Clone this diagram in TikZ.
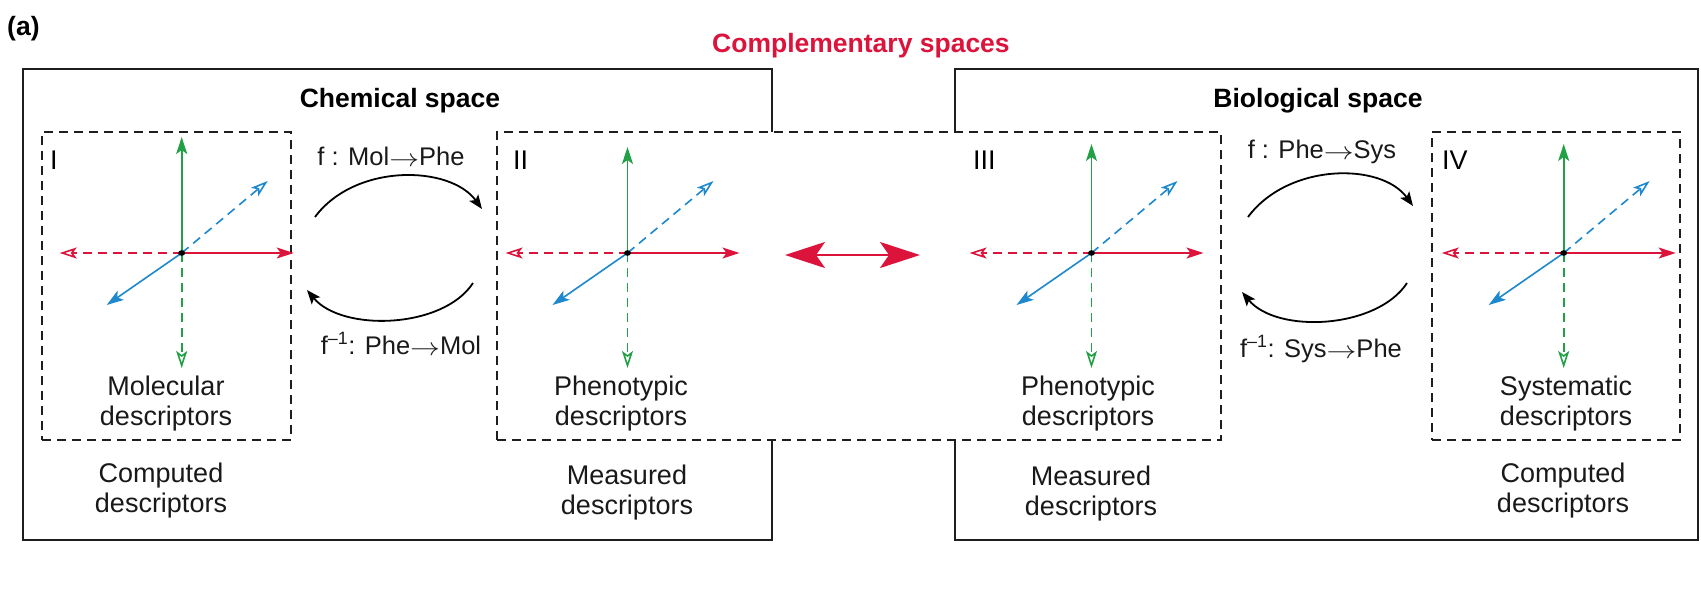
\documentclass[tikz,border=0pt]{standalone}
\usepackage{fontspec}
\setmainfont{Liberation Sans}
\usetikzlibrary{arrows.meta}
\definecolor{cred}{RGB}{220,20,60}
\definecolor{cgreen}{RGB}{34,160,70}
\definecolor{cblue}{RGB}{30,136,206}
\definecolor{cline}{RGB}{30,30,30}
\newcommand{\rarr}{\raisebox{-0.06em}{\scalebox{1.2}[1]{$\rightarrow$}}}
\begin{document}
\begin{tikzpicture}[x=1pt,y=-1pt,
  outerbox/.style={draw=cline, line width=2pt, inner sep=0pt},
  dashbox/.style={draw=cline, line width=2pt, dash pattern=on 9pt off 6pt, fill=white, inner sep=0pt},
  axsolid/.style={line width=1.6pt, -{Stealth[length=17pt,width=11pt,inset=4pt]}},
  axdash/.style={line width=1.6pt, dash pattern=on 9pt off 6pt, -{Stealth[open,length=17pt,width=11pt,inset=4pt]}},
  maparrow/.style={draw=black, line width=1.8pt, -{Stealth[length=14pt,width=11pt,inset=3pt]}},
  bigtxt/.style={font=\fontsize{27}{30}\selectfont, inner sep=0pt},
  desc/.style={font=\fontsize{27}{30}\selectfont, align=center, inner sep=0pt, text=black!90},
  lbl/.style={font=\fontsize{25.5}{28}\selectfont, inner sep=0pt, text=black!90},
  ttl/.style={font=\fontsize{26.5}{30}\bfseries\selectfont, inner sep=0pt}
]
\useasboundingbox (0,0) rectangle (1701,590);

% outer solid boxes
\node[outerbox, minimum width=749pt, minimum height=471pt] (chem) at (397.5,304.5) {};
\node[outerbox, minimum width=743pt, minimum height=471pt] (bio) at (1326.5,304.5) {};

% dashed boxes
\node[dashbox, minimum width=249pt, minimum height=308pt] (boxI) at (166.5,286) {};
\node[dashbox, minimum width=724pt, minimum height=308pt] (boxM) at (859,286) {};
\node[dashbox, minimum width=248pt, minimum height=308pt] (boxIV) at (1556,286) {};

% titles
\node[ttl, anchor=base west] (lab) at (7,35) {(a)};
\node[ttl, anchor=base, text=cred] (comp) at (861,52) {Complementary spaces};
\node[ttl, anchor=base] (chemt) at (400,107) {Chemical space};
\node[ttl, anchor=base] (biot) at (1318,107) {Biological space};

% roman numerals
\node[bigtxt, anchor=base west] (rI) at (50,169) {I};
\node[bigtxt, anchor=base west] (rII) at (513,169) {II};
\node[bigtxt, anchor=base west] (rIII) at (973,169) {III};
\node[bigtxt, anchor=base west] (rIV) at (1442,169) {IV};

% axes
\foreach \n/\x/\up in {o1/181.7/116, o2/627.5/106, o3/1091.5/109, o4/1563.7/109} {
  \coordinate (\n) at (\x,253);
  \draw[axsolid, cgreen] (\n) -- ++(0,-\up);
  \draw[axdash, cgreen] (\n) -- ++(0,115);
  \draw[axsolid, cred] (\n) -- ++(112,0);
  \draw[axdash, cred] (\n) -- ++(-122,0);
  \draw[axsolid, cblue] (\n) -- ++(-75,52);
  \draw[axdash, cblue] (\n) -- ++(86,-72);
  \fill[black] (\n) ellipse (3.5pt and 2.8pt);
}

% mapping arrows left
\coordinate (a1s) at (315,217);
\coordinate (a1e) at (482,209);
\coordinate (a2s) at (473,283);
\coordinate (a2e) at (307,290);
\draw[maparrow] (a1s) .. controls +(40,-54) and +(-32,-44) .. (a1e);
\draw[maparrow] (a2s) .. controls +(-30,46) and +(35,42) .. (a2e);
% mapping arrows right
\coordinate (b1s) at (1248,217);
\coordinate (b1e) at (1413,206);
\coordinate (b2s) at (1407,283);
\coordinate (b2e) at (1242,292);
\draw[maparrow] (b1s) .. controls +(40,-54) and +(-32,-44) .. (b1e);
\draw[maparrow] (b2s) .. controls +(-30,46) and +(35,42) .. (b2e);

\node[lbl, anchor=base] (fmp) at (391,165) {f : Mol\rarr Phe};
\node[lbl, anchor=base] (fpm) at (401,354) {f\textsuperscript{–1}: Phe\rarr Mol};
\node[lbl, anchor=base] (fps) at (1322,158) {f : Phe\rarr Sys};
\node[lbl, anchor=base] (fsp) at (1321,357) {f\textsuperscript{–1}: Sys\rarr Phe};

% red double arrow
\coordinate (dl) at (785,255);
\coordinate (dr) at (920,255);
\draw[cred, line width=2pt, {Stealth[length=40pt,width=26pt,inset=9pt]}-{Stealth[length=40pt,width=26pt,inset=9pt]}] (dl) -- (dr);

% descriptor texts
\node[desc] (dI) at (166,404) {Molecular\\descriptors};
\node[desc] (dII) at (621,404) {Phenotypic\\descriptors};
\node[desc] (dIII) at (1088,404) {Phenotypic\\descriptors};
\node[desc] (dIV) at (1566,404) {Systematic\\descriptors};
\node[desc] (cI) at (161,491) {Computed\\descriptors};
\node[desc] (mII) at (627,493) {Measured\\descriptors};
\node[desc] (mIII) at (1091,494) {Measured\\descriptors};
\node[desc] (cIV) at (1563,491) {Computed\\descriptors};
\end{tikzpicture}
\end{document}
